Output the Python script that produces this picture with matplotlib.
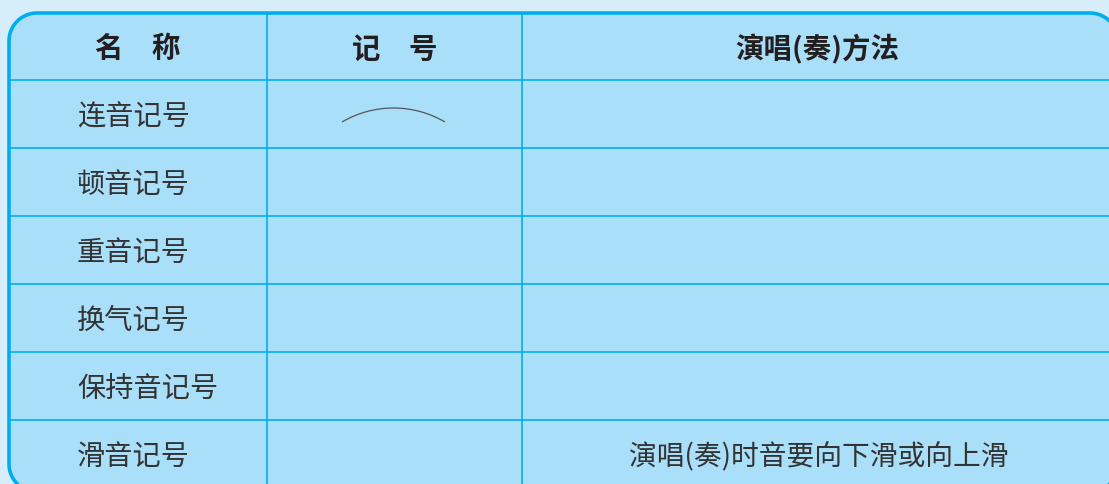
import matplotlib
matplotlib.use("Agg")
import numpy as np
import matplotlib.pyplot as plt
from matplotlib.path import Path
from matplotlib.patches import PathPatch, Arc

plt.rcParams['font.family'] = ['Noto Sans CJK SC', 'DejaVu Sans']

# table content
headers = ['名　称', '记　号', '演唱(奏)方法']
names = ['连音记号', '顿音记号', '重音记号', '换气记号', '保持音记号', '滑音记号']
symbols = ['tie', '', '', '', '', '']
methods = ['', '', '', '', '', '演唱(奏)时音要向下滑或向上滑']

# layout in pixels
W, H = 1109, 484
left, top, right, bottom = 9, 13, 1118, 492
radius = 28
col_x = [267, 522]
row_h = 68
header_h = 67

bg = '#d6edfa'
fill = '#aadffa'
line = '#00aeef'
txt = '#231f20'


def rounded_rect(x0, y0, x1, y1, r, n=20):
    # corners in pixel coords (y downward)
    pts = []
    corners = [(x1 - r, y0 + r, -90, 0), (x1 - r, y1 - r, 0, 90),
               (x0 + r, y1 - r, 90, 180), (x0 + r, y0 + r, 180, 270)]
    for cx, cy, a0, a1 in corners:
        t = np.radians(np.linspace(a0, a1, n))
        pts += list(zip(cx + r * np.cos(t), cy + r * np.sin(t)))
    pts.append(pts[0])
    codes = [Path.MOVETO] + [Path.LINETO] * (len(pts) - 2) + [Path.CLOSEPOLY]
    return Path(pts, codes)


fig = plt.figure(figsize=(W / 100, H / 100), dpi=100)
fig.patch.set_facecolor(bg)
ax = fig.add_axes([0, 0, 1, 1])
ax.set_xlim(0, W)
ax.set_ylim(H, 0)
ax.axis('off')

rr = rounded_rect(left, top, right, bottom, radius)
box = PathPatch(rr, facecolor=fill, edgecolor='none', zorder=1)
ax.add_patch(box)

# grid lines clipped to the rounded box
row_y = [top + header_h + i * row_h for i in range(len(names))]
for y in row_y:
    l, = ax.plot([left, right], [y, y], color=line, lw=1.2, zorder=2)
    l.set_clip_path(box)
for x in col_x:
    l, = ax.plot([x, x], [top, bottom], color=line, lw=1.2, zorder=2)
    l.set_clip_path(box)

ax.add_patch(PathPatch(rr, facecolor='none', edgecolor=line, lw=2.6, zorder=3))

col_centers = [(left + col_x[0]) / 2, (col_x[0] + col_x[1]) / 2, 817]
name_x = 77

# header
hy = top + header_h / 2 + 3
for cx, h in zip(col_centers, headers):
    ax.text(cx, hy, h, ha='center', va='center', fontsize=20.5,
            fontweight='bold', color=txt, zorder=4)

# body rows
for i, (n, s, m) in enumerate(zip(names, symbols, methods)):
    cy = row_y[i] + row_h / 2
    ax.text(name_x, cy + 3, n, ha='left', va='center', fontsize=20.3,
            color='#333333', zorder=4)
    if s == 'tie':
        # slur/tie arc, chord ~103px, sagitta ~14px
        r = 101.7
        ax.add_patch(Arc((col_centers[1] - 1, cy - 6 + r), 2 * r, 2 * r,
                         theta1=-120.4, theta2=-59.6, color='#555555',
                         lw=0.9, zorder=4))
    if m:
        ax.text(col_centers[2] + 2, cy + 3, m, ha='center', va='center',
                fontsize=20, color='#333333', zorder=4)

fig.savefig('out.png', dpi=100, facecolor=bg)
